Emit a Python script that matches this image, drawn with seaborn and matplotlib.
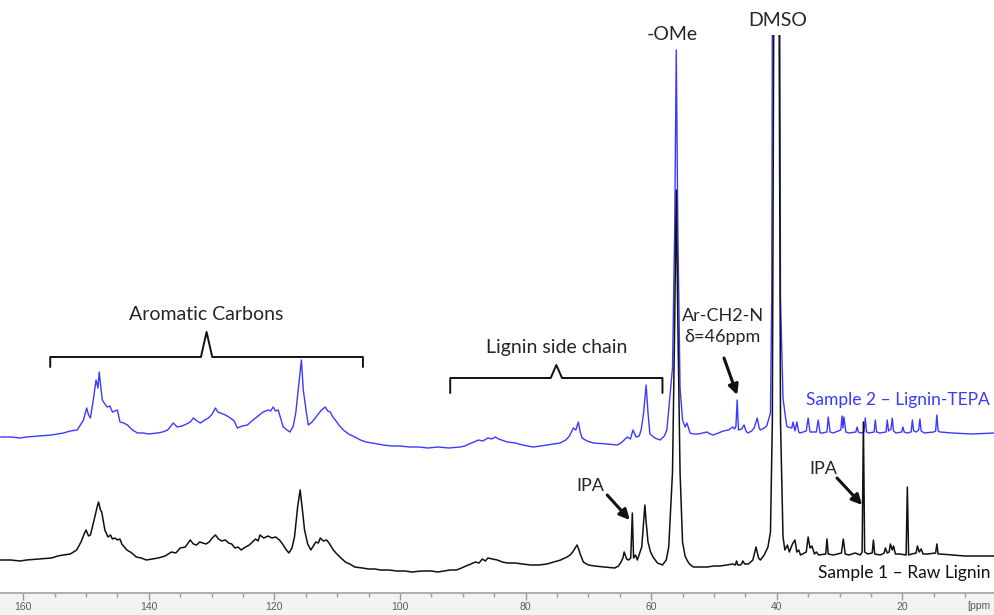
import matplotlib
matplotlib.use("Agg")
import matplotlib.pyplot as plt
import numpy as np
import pandas as pd
import seaborn as sns
from matplotlib.patches import Rectangle

# (ppm, intensity), arbitrary units, split by region
RAW_AROMATIC = [
    (163.6, 12), (162.0, 12), (160.5, 11), (159.5, 12), (157.6, 13), (155.5, 14),
    (154.5, 16), (153.6, 17), (152.5, 18), (151.5, 22), (150.8, 30), (150.3, 38),
    (150.0, 42), (149.6, 36), (149.3, 37), (148.6, 55), (148.2, 66), (148.0, 70),
    (147.7, 62), (147.5, 60), (147.0, 42), (146.5, 35), (146.1, 37), (145.8, 33),
    (145.4, 34), (145.0, 32), (144.6, 33), (144.3, 28), (143.5, 22), (142.7, 19),
    (142.0, 15), (141.2, 14), (140.4, 12), (139.4, 13), (138.5, 14), (137.4, 16),
    (136.4, 20), (135.7, 19), (135.0, 24), (134.2, 25), (133.4, 32), (132.9, 28),
    (132.4, 27), (131.9, 30), (131.4, 29), (130.9, 28), (130.4, 30), (129.9, 34),
    (129.4, 37), (128.9, 33), (128.4, 31), (127.8, 32), (127.3, 29), (126.8, 28),
    (126.3, 24), (125.8, 25), (125.3, 22), (124.6, 25), (124.0, 27), (123.5, 30),
    (123.0, 33), (122.6, 31), (122.3, 37), (121.7, 34), (121.0, 36), (120.4, 34),
    (119.8, 35), (119.2, 32), (118.7, 28), (118.2, 23), (117.7, 19), (117.2, 24),
    (116.8, 35), (116.3, 65), (115.9, 82), (115.5, 60), (115.2, 42), (114.7, 28),
    (114.2, 22), (113.8, 26), (113.4, 30), (113.0, 29), (112.7, 34), (112.2, 31),
    (111.7, 32), (111.3, 29), (111.0, 26), (110.6, 22), (110.2, 19), (109.4, 14),
    (108.7, 10), (108.0, 8), (107.2, 5), (106.0, 4), (105.0, 3), (104.0, 3),
    (103.1, 2), (101.8, 2), (100.5, 1),
]
RAW_SIDECHAIN = [
    (99.2, 1), (98.1, 0), (96.5, 1), (95.0, 1), (94.0, 0), (93.0, 1), (92.0, 2),
    (91.0, 2), (90.2, 4), (89.5, 6), (88.7, 8), (88.0, 10), (87.4, 9), (86.9, 13),
    (86.4, 11), (86.0, 14), (85.3, 13), (84.5, 12), (83.7, 10), (82.9, 9),
    (81.7, 9), (80.5, 8), (79.2, 7), (77.9, 7), (76.6, 8), (75.5, 10), (74.4, 12),
    (73.4, 15), (72.9, 17), (72.5, 20), (72.1, 24), (71.8, 27), (71.5, 22),
    (71.3, 18), (70.8, 10), (70.0, 7), (69.0, 6), (67.5, 5), (65.8, 4), (65.2, 6),
    (64.8, 10), (64.5, 14), (64.3, 20), (63.9, 13), (63.6, 12), (63.25, 14),
    (63.0, 59), (62.8, 14), (62.5, 17), (62.2, 12), (61.5, 25), (61.2, 50),
    (61.0, 67), (60.8, 50), (60.5, 30), (60.1, 20), (59.7, 15), (59.0, 9),
    (58.2, 7),
]
RAW_ALIPHATIC = [
    (57.6, 12), (57.2, 25), (56.6, 100), (56.25, 250), (56.0, 382), (55.75, 250),
    (55.4, 100), (55.0, 30), (54.6, 16), (54.3, 12), (53.9, 8), (53.3, 5),
    (52.2, 5), (51.1, 5), (50.0, 6), (49.0, 6), (48.0, 7), (47.0, 8), (46.6, 7),
    (46.4, 11), (46.2, 7), (45.8, 7), (45.6, 8), (45.4, 11), (45.1, 8), (44.5, 8),
    (43.8, 12), (43.3, 25), (42.9, 14), (42.6, 12), (42.0, 17), (41.4, 25),
    (41.0, 40), (40.7, 150), (40.4, 700), (39.7, 700), (39.4, 150), (39.0, 35),
    (38.7, 22), (38.3, 27), (38.0, 20), (37.5, 28), (37.1, 32), (36.8, 20),
    (36.5, 22), (36.2, 17), (35.3, 20), (35.0, 35), (34.7, 24), (34.4, 26),
    (34.0, 18), (33.7, 20), (33.3, 17), (32.2, 18), (32.0, 33), (31.8, 18),
    (31.0, 17), (29.7, 19), (29.4, 33), (29.1, 18), (28.5, 17), (27.5, 19),
    (26.7, 17), (26.4, 20), (26.2, 150), (26.0, 20), (25.5, 18), (24.8, 19),
    (24.6, 32), (24.4, 18), (23.5, 17), (22.9, 19), (22.7, 24), (22.4, 19),
    (22.1, 20), (21.9, 28), (21.6, 22), (21.4, 26), (21.1, 18), (20.4, 18),
    (19.4, 17), (19.2, 85), (19.0, 17), (18.5, 18), (17.8, 19), (17.6, 26),
    (17.3, 20), (17.0, 23), (16.7, 18), (16.0, 18), (14.7, 19), (14.5, 28),
    (14.3, 18), (14.0, 18), (12.0, 17), (10.0, 16), (8.0, 16), (5.3, 16),
]

TEPA_AROMATIC = [
    (163.6, 11), (162.0, 11), (160.5, 10), (159.5, 11), (157.6, 12), (155.5, 13),
    (154.5, 14), (153.6, 15), (152.5, 17), (151.4, 18), (150.8, 24), (150.4, 28),
    (149.9, 40), (149.6, 33), (149.3, 30), (148.8, 50), (148.4, 68), (148.1, 60),
    (147.9, 76), (147.6, 58), (147.4, 48), (147.0, 44), (146.6, 41), (146.2, 42),
    (145.8, 36), (145.4, 37), (145.0, 38), (144.6, 26), (144.0, 25), (143.4, 23),
    (142.6, 18), (141.8, 15), (140.9, 15), (140.0, 14), (138.7, 15), (137.8, 16),
    (137.0, 18), (136.1, 25), (135.5, 21), (134.7, 22), (134.0, 24), (133.4, 26),
    (132.9, 30), (132.3, 27), (131.8, 25), (131.1, 28), (130.5, 30), (129.9, 34),
    (129.4, 40), (129.0, 36), (128.6, 35), (127.8, 33), (127.0, 30), (126.4, 27),
    (125.9, 20), (125.1, 22), (124.3, 23), (123.6, 27), (123.0, 30), (122.4, 33),
    (121.8, 36), (121.0, 38), (120.6, 37), (120.2, 41), (119.8, 37), (119.4, 38),
    (118.6, 21), (118.0, 18), (117.5, 16), (117.0, 22), (116.6, 35), (116.2, 58),
    (115.7, 88), (115.4, 58), (114.9, 35), (114.6, 23), (114.0, 26), (113.5, 30),
    (113.0, 34), (112.5, 38), (111.9, 41), (111.5, 37), (111.1, 36), (110.7, 31),
    (110.3, 28), (109.6, 22), (109.0, 18), (108.2, 14), (107.5, 12), (106.3, 8),
    (105.4, 6), (104.5, 5), (103.5, 4), (102.7, 3), (101.3, 2), (100.0, 2),
]
TEPA_SIDECHAIN = [
    (98.5, 1), (97.0, 1), (95.5, 0), (94.0, 1), (92.2, 0), (90.4, 1), (89.7, 2),
    (89.0, 4), (88.2, 6), (87.5, 8), (86.8, 7), (86.0, 10), (85.4, 9), (84.8, 11),
    (84.3, 9), (83.8, 8), (82.9, 6), (81.6, 5), (80.5, 3), (78.8, 1), (77.6, 2),
    (76.5, 3), (75.5, 4), (74.5, 5), (73.6, 8), (73.0, 12), (72.4, 20), (72.0, 18),
    (71.6, 26), (71.3, 16), (71.0, 10), (70.2, 7), (69.2, 5), (67.0, 4), (65.4, 3),
    (64.8, 5), (64.3, 8), (63.8, 11), (63.3, 9), (62.9, 18), (62.4, 11), (61.9, 12),
    (61.6, 18), (61.2, 35), (60.8, 63), (60.5, 35), (60.2, 14), (59.4, 10),
    (58.6, 8),
]
TEPA_ALIPHATIC = [
    (57.9, 12), (57.5, 18), (56.6, 80), (56.25, 220), (56.0, 398), (55.75, 220),
    (55.4, 60), (55.0, 28), (54.6, 21), (54.3, 25), (53.8, 15), (53.2, 14),
    (52.5, 14), (51.8, 15), (51.1, 16), (50.6, 14), (50.1, 13), (49.3, 15),
    (48.5, 17), (47.7, 18), (47.0, 21), (46.7, 19), (46.5, 22), (46.3, 48),
    (46.1, 18), (45.6, 19), (45.2, 23), (44.9, 17), (44.6, 15), (44.0, 17),
    (43.6, 20), (43.1, 30), (42.8, 20), (42.6, 18), (42.0, 20), (41.6, 22),
    (41.0, 35), (40.8, 150), (40.6, 700), (39.6, 700), (39.4, 150), (39.0, 50),
    (38.7, 35), (38.4, 22), (38.2, 21), (37.6, 20), (37.4, 26), (37.1, 17),
    (36.8, 26), (36.5, 16), (36.3, 15), (35.3, 17), (35.0, 30), (34.7, 16),
    (34.5, 16), (33.7, 16), (33.4, 28), (33.1, 15), (32.8, 15), (32.0, 16),
    (31.8, 31), (31.5, 16), (31.0, 15), (30.2, 17), (29.8, 18), (29.6, 32),
    (29.45, 20), (29.3, 31), (29.0, 16), (28.5, 15), (27.4, 16), (27.2, 21),
    (27.0, 16), (26.6, 15), (26.1, 16), (25.9, 30), (25.7, 16), (25.3, 15),
    (24.5, 16), (24.3, 28), (24.1, 16), (23.6, 15), (22.6, 16), (22.4, 28),
    (22.2, 17), (22.0, 18), (21.8, 19), (21.6, 30), (21.4, 17), (21.0, 15),
    (20.1, 16), (19.9, 21), (19.7, 16), (19.2, 15), (18.6, 16), (18.4, 28),
    (18.2, 17), (17.8, 16), (17.4, 18), (17.2, 29), (17.0, 17), (16.5, 15),
    (15.0, 16), (14.7, 17), (14.5, 33), (14.3, 17), (14.0, 16), (12.0, 15),
    (9.0, 14), (5.3, 15),
]

TEPA_OFFSET = 124
MAJOR_TICKS = [160, 140, 120, 100, 80, 60, 40, 20]

BLUE = "#3a3aff"
TEXT_FONT = ["Lato", "DejaVu Sans"]
AXIS_FONT = ["Liberation Sans", "DejaVu Sans"]


def to_frame(*regions, offset=0):
    pts = [p for region in regions for p in region]
    df = pd.DataFrame(pts, columns=["ppm", "signal"])
    df["signal"] = df["signal"] + offset
    return df


raw = to_frame(RAW_AROMATIC, RAW_SIDECHAIN, RAW_ALIPHATIC)
tepa = to_frame(TEPA_AROMATIC, TEPA_SIDECHAIN, TEPA_ALIPHATIC, offset=TEPA_OFFSET)

sns.set_theme(style="white")
plt.rcParams["font.family"] = TEXT_FONT

fig = plt.figure(figsize=(9.94, 6.15), dpi=100, facecolor="white")
# light grey strip under the axis, like the NMR software
fig.patches.append(Rectangle((0, 0), 1, 22 / 615, transform=fig.transFigure,
                             facecolor="#f3f3f3", edgecolor="none", zorder=-5))
ax = fig.add_axes([0, 22 / 615, 1, 558 / 615])
ax.set_facecolor("none")

sns.lineplot(data=tepa, x="ppm", y="signal", ax=ax, color=BLUE, lw=1.0,
             estimator=None)
sns.lineplot(data=raw, x="ppm", y="signal", ax=ax, color="#111111", lw=1.1,
             estimator=None)

ax.set_xlim(163.7, 5.4)
ax.set_ylim(-21, 537)
ax.set_xlabel("")
ax.set_ylabel("")
ax.set_yticks([])
for side in ["top", "left", "right"]:
    ax.spines[side].set_visible(False)
ax.spines["bottom"].set_color("#a8a8a8")
ax.spines["bottom"].set_linewidth(1.3)
ax.set_xticks(MAJOR_TICKS)
ax.set_xticks(np.arange(160, 5, -5), minor=True)
ax.tick_params(axis="x", which="both", bottom=True, direction="out", width=1,
               color="#999999")
ax.tick_params(axis="x", which="major", length=5, labelsize=7.5,
               labelcolor="#5a5a5a", pad=1.5)
ax.tick_params(axis="x", which="minor", length=3)
for lab in ax.get_xticklabels():
    lab.set_family(AXIS_FONT)
fig.text(967 / 994, 9 / 615, "[ppm", fontsize=7.5, color="#5a5a5a",
         family=AXIS_FONT, ha="left", va="center")

txt = dict(fontsize=14, ha="center", va="center", clip_on=False)
small = dict(fontsize=13, ha="center", va="center", clip_on=False)


def brace(x1, x2, y, drop, rise):
    xc = (x1 + x2) / 2
    xs = [x1, x1, xc + 0.9, xc, xc - 0.9, x2, x2]
    ys = [y - drop, y, y, y + rise, y, y, y - drop]
    ax.plot(xs, ys, color="#111111", lw=1.4, clip_on=False)


brace(155.7, 105.9, 215, 10, 25)
ax.text(130.8, 257, "Aromatic Carbons", **txt)
brace(92.0, 58.2, 194, 15, 13)
ax.text(75.1, 224, "Lignin side chain", **txt)

ax.text(56.7, 537, "-OMe", **txt)
ax.text(39.8, 551, "DMSO", **txt)
ax.text(48.6, 256, "Ar-CH2-N", **small)
ax.text(48.6, 235, "δ=46ppm", **small)
ax.text(6.0, 172, "Sample 2 – Lignin-TEPA", fontsize=12.5, ha="right",
        va="center", color=BLUE)
ax.text(6.0, -1, "Sample 1 – Raw Lignin", fontsize=12.5, ha="right",
        va="center", color="#111111")
ax.text(69.7, 86, "IPA", **small)
ax.text(32.6, 103, "IPA", **small)

arrow = dict(arrowstyle="-|>", lw=2.2, color="#111111", mutation_scale=15,
             shrinkA=0, shrinkB=0)
ax.annotate("", xy=(46.3, 177), xytext=(48.4, 214), arrowprops=arrow)
ax.annotate("", xy=(63.4, 52), xytext=(67.0, 77), arrowprops=arrow)
ax.annotate("", xy=(26.4, 67), xytext=(30.4, 94), arrowprops=arrow)

fig.savefig("out.png", dpi=100, facecolor="white")
